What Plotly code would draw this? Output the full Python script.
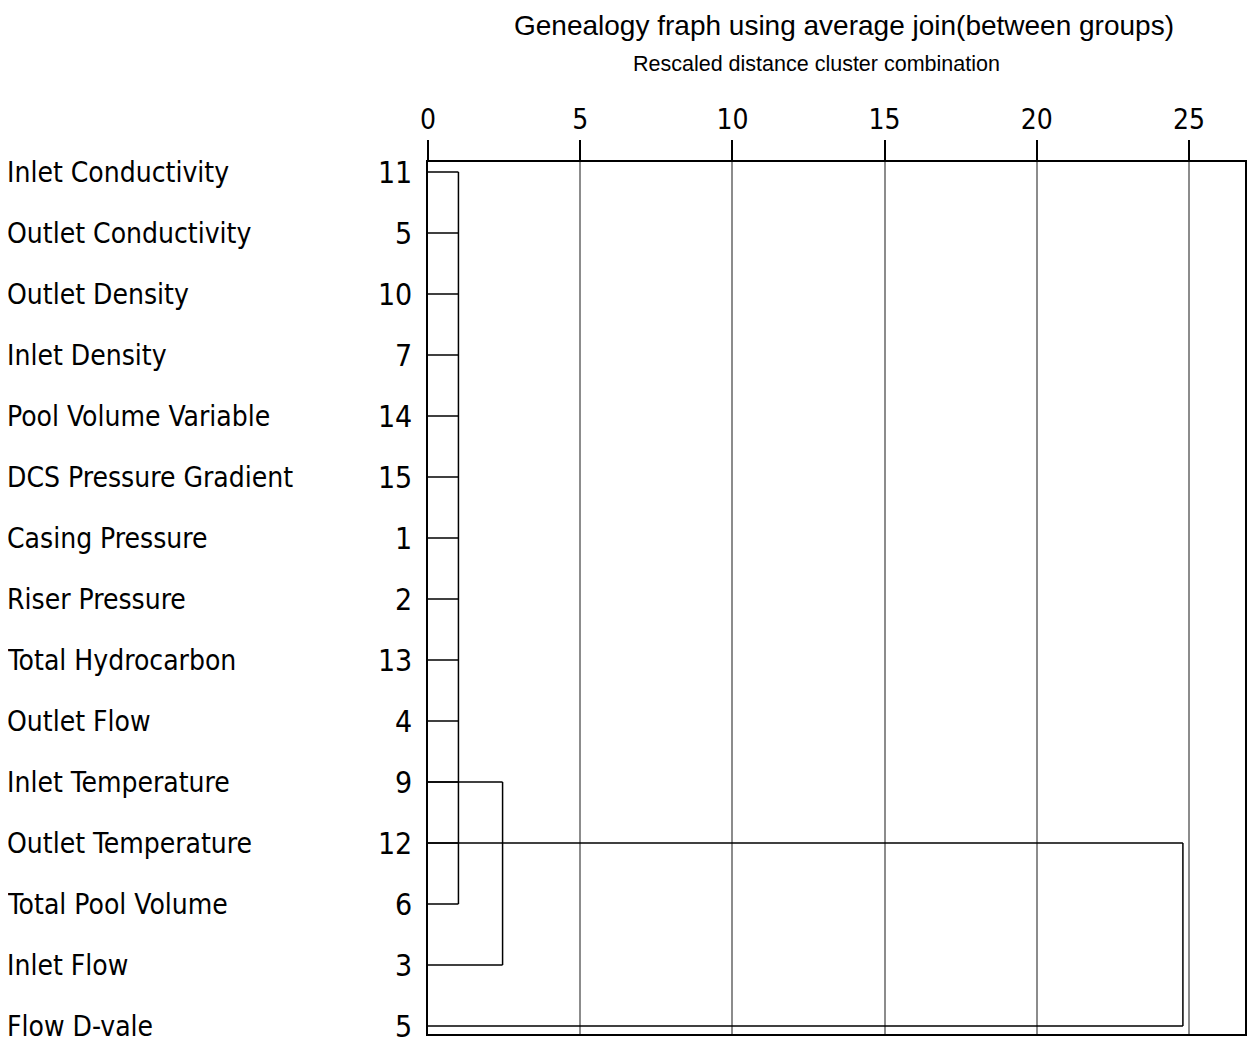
import plotly.graph_objects as go

# ---- data ----
variable_names = [
    "Inlet Conductivity", "Outlet Conductivity", "Outlet Density", "Inlet Density",
    "Pool Volume Variable", "DCS Pressure Gradient", "Casing Pressure", "Riser Pressure",
    "Total Hydrocarbon", "Outlet Flow", "Inlet Temperature", "Outlet Temperature",
    "Total Pool Volume", "Inlet Flow", "Flow D-vale",
]
case_numbers = ["11", "5", "10", "7", "14", "15", "1", "2", "13", "4", "9", "12", "6", "3", "5"]

# merge steps: rows (in display order) joined at each step, and the rescaled distance
merge_rows = [
    [0, 1, 2, 3, 4, 5, 6, 7, 8, 9, 10, 11, 12],
    [10, 13],
    [11, 14],
]
merge_distance = [1.0, 2.45, 24.8]

axis_ticks = [0, 5, 10, 15, 20, 25]

title_text = "Genealogy fraph using average join(between groups)"
subtitle_text = "Rescaled distance cluster combination"

# ---- figure geometry (screen pixels of the reference) ----
OFF = 8  # page body margin
W, H = 1255 - 2 * OFF, 1042 - OFF
x0_px, x25_px = 428, 1189
right_px = 1245
top_px, bottom_px = 162, 1034
row0, rowN = 172, 1026
ML = x0_px - OFF
MT = top_px - OFF
MR = W - (right_px - OFF)
MB = H - (bottom_px - OFF)
px_per_unit = (x25_px - x0_px) / 25
axis_max = (right_px - x0_px) / px_per_unit

NARROW = "Liberation Sans Narrow, DejaVu Sans Condensed, Arial Narrow, sans-serif"
REG = "Liberation Sans, Arial, sans-serif"

xs, ys = [], []
for rows, d in zip(merge_rows, merge_distance):
    for r in rows:
        xs += [0, d, None]
        ys += [r, r, None]
    xs += [d, d, None]
    ys += [min(rows), max(rows), None]

fig = go.Figure()
fig.add_trace(go.Scatter(
    x=xs, y=ys, mode="lines",
    line=dict(color="black", width=1.5),
    hoverinfo="skip", showlegend=False, cliponaxis=False,
))

n = len(variable_names)
plot_w = W - ML - MR
plot_h = H - MT - MB
unit = (rowN - row0) / (n - 1)
y_top = -(row0 - top_px) / unit
y_bot = (n - 1) + (bottom_px - rowN) / unit

fig.update_layout(
    width=W, height=H,
    margin=dict(l=ML, r=MR, t=MT, b=MB, pad=0, autoexpand=False),
    plot_bgcolor="white", paper_bgcolor="white",
    showlegend=False,
    xaxis=dict(
        range=[0, axis_max], side="top", automargin=False,
        tickvals=axis_ticks, ticktext=[str(t) for t in axis_ticks],
        ticks="outside", ticklen=20, tickwidth=1.5, tickcolor="black",
        showgrid=True, gridcolor="#8c8c8c", gridwidth=1.5,
        showline=True, linecolor="black", linewidth=1.5, mirror=True,
        zeroline=False,
        tickfont=dict(family=NARROW, size=28, color="black"),
        ticklabelstandoff=0,
    ),
    yaxis=dict(
        range=[y_bot, y_top], automargin=False,
        tickvals=list(range(n)), ticktext=case_numbers,
        ticks="", showgrid=False, zeroline=False,
        showline=True, linecolor="black", linewidth=1.5, mirror=True,
        tickfont=dict(family=NARROW, size=30, color="black"),
        ticklabelstandoff=8,
        ticklabeloverflow="allow",
    ),
)

ann = []
for i, name in enumerate(variable_names):
    ann.append(dict(
        text=name, xref="paper", yref="y", x=-(ML + 3) / plot_w, y=i,
        xanchor="left", yanchor="middle", showarrow=False,
        font=dict(family=NARROW, size=28, color="black"),
    ))
ann.append(dict(
    text=title_text, xref="paper", yref="paper",
    x=(844 - x0_px) / plot_w, y=1 + (top_px - 25) / plot_h,
    xanchor="center", yanchor="middle", showarrow=False, borderpad=0,
    font=dict(family=REG, size=28, color="black"),
))
ann.append(dict(
    text=subtitle_text, xref="paper", yref="paper",
    x=(816 - x0_px) / plot_w, y=1 + (top_px - 64) / plot_h,
    xanchor="center", yanchor="middle", showarrow=False,
    font=dict(family=REG, size=21.5, color="black"),
))
fig.update_layout(annotations=ann)

fig.write_html("out.html")
